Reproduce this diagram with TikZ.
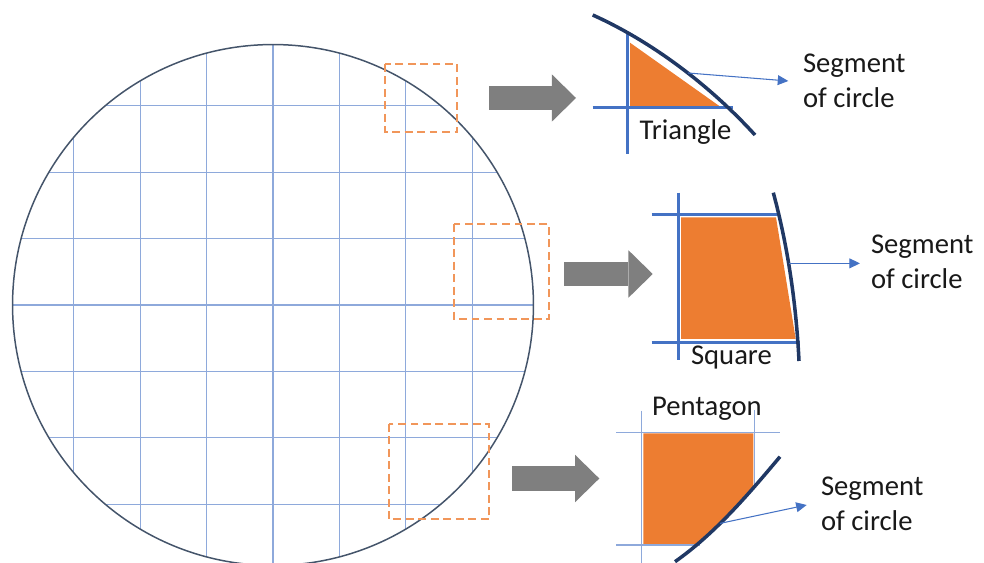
\documentclass[tikz,border=0pt]{standalone}
\usepackage{fontspec}
\setmainfont{Carlito}
\usepackage{xcolor}
\usetikzlibrary{arrows.meta, positioning}

\definecolor{wafer}{RGB}{68,84,106}
\definecolor{gridblue}{RGB}{142,169,219}
\definecolor{cutblue}{RGB}{68,114,196}
\definecolor{rimnavy}{RGB}{32,56,100}
\definecolor{dieorange}{RGB}{237,125,49}
\definecolor{boxorange}{RGB}{241,150,90}
\definecolor{arrowgray}{RGB}{127,127,127}

\begin{document}
\begin{tikzpicture}[x=0.02cm, y=-0.02cm, >=Stealth,
    lbl/.style={font=\fontsize{16.3}{19.8}\selectfont, text=black!90, anchor=base west, inner sep=0pt},
    gridline/.style={gridblue, line width=0.6pt},
    zoombox/.style={boxorange, line width=1pt, dash pattern=on 4.5pt off 2.6pt},
    bigarrow/.style={arrowgray, line width=13.8pt,
        -{Triangle[length=13.8pt, width=27pt, line width=0pt]}},
    cutline/.style={cutblue, line width=1.5pt},
    rim/.style={rimnavy, line width=2pt},
    die/.style={fill=dieorange, draw=none},
    pointer/.style={cutblue, line width=0.6pt, -{Triangle[length=6pt, width=5.6pt]}}]

\useasboundingbox (0,0) rectangle (984,563);

% ── LEFT: wafer with die grid ─────────────────────────────────────
\coordinate (wc) at (273,305);
\begin{scope}
    \clip (wc) circle (5.21cm);
    \foreach \k in {-3,...,3} {
        \draw[gridline] ({273+66.4*\k}, 30) -- ({273+66.4*\k}, 580);
        \draw[gridline] (0, {305+66.4*\k}) -- (560, {305+66.4*\k});
    }
\end{scope}
\draw[wafer, line width=0.85pt] (wc) circle (5.21cm);

% dashed zoom windows
\draw[zoombox] (385,64) rectangle (457.3,131.7);
\draw[zoombox] (454.3,224.3) rectangle (549.3,319.3);
\draw[zoombox] (389,424) rectangle (489.3,519.3);

% grey block arrows
\coordinate (a1s) at (489.3,98);   \coordinate (a1e) at (576,98);
\coordinate (a2s) at (564.3,274);  \coordinate (a2e) at (652.7,274);
\coordinate (a3s) at (512.3,478.5); \coordinate (a3e) at (599.3,478.5);
\draw[bigarrow] (a1s) -- (a1e);
\draw[bigarrow] (a2s) -- (a2e);
\draw[bigarrow] (a3s) -- (a3e);

% ── TOP: triangle ─────────────────────────────────────────────────
\fill[die] (630,42.7) -- (630,106) -- (719.3,106) -- cycle;
\draw[cutline] (627.7,33) -- (627.7,154);
\draw[cutline] (592.7,107.3) -- (733.3,107.3);
\draw[rim] (592.7,15) .. controls (652.7,42) and (710.4,86) .. coordinate[pos=0.55] (s1) (755,135);

\node[lbl] (tri) at (639.3,140) {Triangle};
\node[lbl] (seg1) at (802.7,73) {Segment};
\node[lbl] (seg1b) at (802.7,108) {of circle};
\coordinate (t1) at (788.3,81);
\draw[pointer] (s1) -- (t1);

% ── MIDDLE: square ────────────────────────────────────────────────
\fill[die] (681,217.3) -- (776,217.3) -- (795.7,339) -- (681,339) -- cycle;
\draw[cutline] (678.3,192.7) -- (678.3,360);
\draw[cutline] (651.7,214.3) -- (776.7,214.3);
\draw[cutline] (651.7,342.3) -- (800,342.3);
\draw[rim] (773.3,192.7) .. controls (788.4,248.7) and (796.2,305) .. coordinate[pos=0.42] (s2) (799,361);

\node[lbl] (sq) at (690.7,365) {Square};
\node[lbl] (seg2) at (870.7,253.3) {Segment};
\node[lbl] (seg2b) at (870.7,288.3) {of circle};
\coordinate (x2) at (860,0);
\draw[pointer] (s2) -- (s2 -| x2);

% ── BOTTOM: pentagon ──────────────────────────────────────────────
\fill[die] (643.3,433.3) -- (753.3,433.3) -- (753.3,488.3) -- (699.3,544) -- (643.3,544) -- cycle;
\draw[gridline, line width=0.7pt] (641.7,410.7) -- (641.7,563);
\draw[gridline, line width=0.7pt] (754.3,410) -- (754.3,487);
\draw[gridline, line width=0.7pt] (616,432.3) -- (780,432.3);
\draw[gridline, line width=0.7pt] (616,545) -- (700,545);
\draw[rim] (780,456.7) .. controls (748.5,494.2) and (715.1,533.5) .. coordinate[pos=0.6] (s3) (675,561.7);

\node[lbl] (pent) at (651.7,416) {Pentagon};
\node[lbl] (seg3) at (820.7,496) {Segment};
\node[lbl] (seg3b) at (820.7,531) {of circle};
\coordinate (t3) at (806.7,505);
\draw[pointer] (s3) -- (t3);

\end{tikzpicture}
\end{document}
